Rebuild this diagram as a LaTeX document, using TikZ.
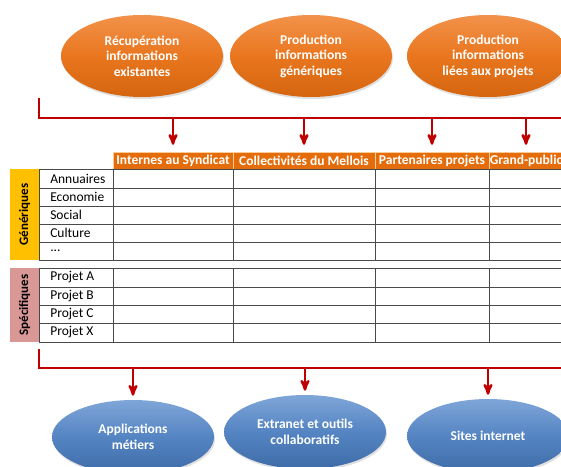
\documentclass[tikz,border=0pt]{standalone}
\usepackage{fontspec}
\setmainfont{Carlito}
\usetikzlibrary{arrows,positioning,calc,shapes.geometric,shadows}

\definecolor{busred}{HTML}{C00000}
\definecolor{headorange}{HTML}{E46C0A}
\definecolor{ortop}{HTML}{F2924A}
\definecolor{ormid}{HTML}{E9761E}
\definecolor{orbot}{HTML}{D4650F}
\definecolor{bltop}{HTML}{7FA6D8}
\definecolor{blmid}{HTML}{5484C2}
\definecolor{blbot}{HTML}{3E6CA8}
\definecolor{genyellow}{HTML}{FFC000}
\definecolor{specpink}{HTML}{D99795}
\definecolor{gridgray}{HTML}{4A4A4A}

\begin{document}
\begin{tikzpicture}[x=1pt, y=-1pt, >=stealth', semithick]
	\tikzstyle{source}=[ellipse, minimum width=162pt, minimum height=82pt, inner sep=0pt,
		top color=ortop, bottom color=orbot, middle color=ormid,
		text=white, font=\fontsize{13.5}{15.5}\selectfont\bfseries, align=center,
		drop shadow={opacity=0.25, shadow xshift=1pt, shadow yshift=-2pt}]
	\tikzstyle{target}=[ellipse, minimum width=162pt, minimum height=74pt, inner sep=0pt,
		top color=bltop, bottom color=blbot, middle color=blmid,
		text=white, font=\fontsize{13.5}{16.5}\selectfont\bfseries, align=center,
		drop shadow={opacity=0.25, shadow xshift=1pt, shadow yshift=-2pt}]
	\tikzstyle{head}=[fill=headorange, draw=orange!40!white, thin, text=white, minimum height=17pt,
		inner sep=0pt, font=\fontsize{13.5}{15}\selectfont\bfseries]
	\tikzstyle{side}=[rotate=90, minimum height=29pt, inner sep=0pt, font=\fontsize{13}{15}\selectfont\bfseries]
	\tikzstyle{rowlab}=[anchor=west, inner sep=0pt, font=\fontsize{13.5}{15}\selectfont]
	\tikzstyle{bus}=[busred, line width=2.5pt]
	\tikzstyle{grid}=[gridgray, line width=0.8pt]

	\useasboundingbox (0,0) rectangle (561,466);

	% sources
	\node[source] (recup) at (142,56) {Récupération\\informations\\existantes};
	\node[source] (prodgen) at (311,56) {Production\\informations\\génériques};
	\node[source] (prodproj) at (488,56) {Production\\informations\\liées aux projets};

	% table header
	\node[head, minimum width=120pt] (h1) at (173,160.5) {Internes au Syndicat};
	\node[head, minimum width=142pt] (h2) at (304,160.5) {Collectivités du Mellois};
	\node[head, minimum width=114pt] (h3) at (432,160.5) {Partenaires projets};
	\node[head, minimum width=74pt]  (h4) at (526,160.5) {Grand-public};

	% side labels
	\node[side, fill=genyellow, minimum width=91pt] (gen) at (24.5,214.5) {Génériques};
	\node[side, fill=specpink, minimum width=74pt] (spec) at (24.5,305) {Spécifiques};

	% grid
	\foreach \y in {169,188,206,224,242,260,268,287,305,323,342}
		\draw[grid] (39,\y) -- (561,\y);
	\foreach \x in {39,113,233,375,489} {
		\draw[grid] (\x,169) -- (\x,260);
		\draw[grid] (\x,268) -- (\x,342);
	}

	% rows
	\node[rowlab] (annu) at (50,178.5) {Annuaires};
	\node[rowlab] (eco)  at (50,197)   {Economie};
	\node[rowlab] (soc)  at (50,215)   {Social};
	\node[rowlab] (cult) at (50,233)   {Culture};
	\node[rowlab] (etc)  at (50,251)   {...};
	\node[rowlab] (pa) at (50,277.5) {Projet A};
	\node[rowlab] (pb) at (50,296)   {Projet B};
	\node[rowlab] (pc) at (50,314)   {Projet C};
	\node[rowlab] (px) at (50,332.5) {Projet X};

	% targets
	\node[target] (appli) at (133,437) {Applications\\métiers};
	\node[target] (extra) at (305,432) {Extranet et outils\\collaboratifs};
	\node[target] (sites) at (488,436) {Sites internet};

	% top bus
	\coordinate (topA) at (39,98);
	\coordinate (topB) at (39,118);
	\coordinate (topE) at (561,118);
	\draw[bus] (topA) -- (topB) -- (topE);
	\foreach \h in {h1,h2,h3,h4}
		\draw[bus,->,shorten >=7pt] (topB -| \h) -- (\h.north);

	% bottom bus
	\coordinate (botA) at (39,349);
	\coordinate (botB) at (39,368);
	\coordinate (botE) at (561,368);
	\draw[bus] (botA) -- (botB) -- (botE);
	\foreach \t in {appli,extra,sites}
		\draw[bus,->,shorten >=4pt] (botB -| \t) -- (\t.north);
\end{tikzpicture}
\end{document}
